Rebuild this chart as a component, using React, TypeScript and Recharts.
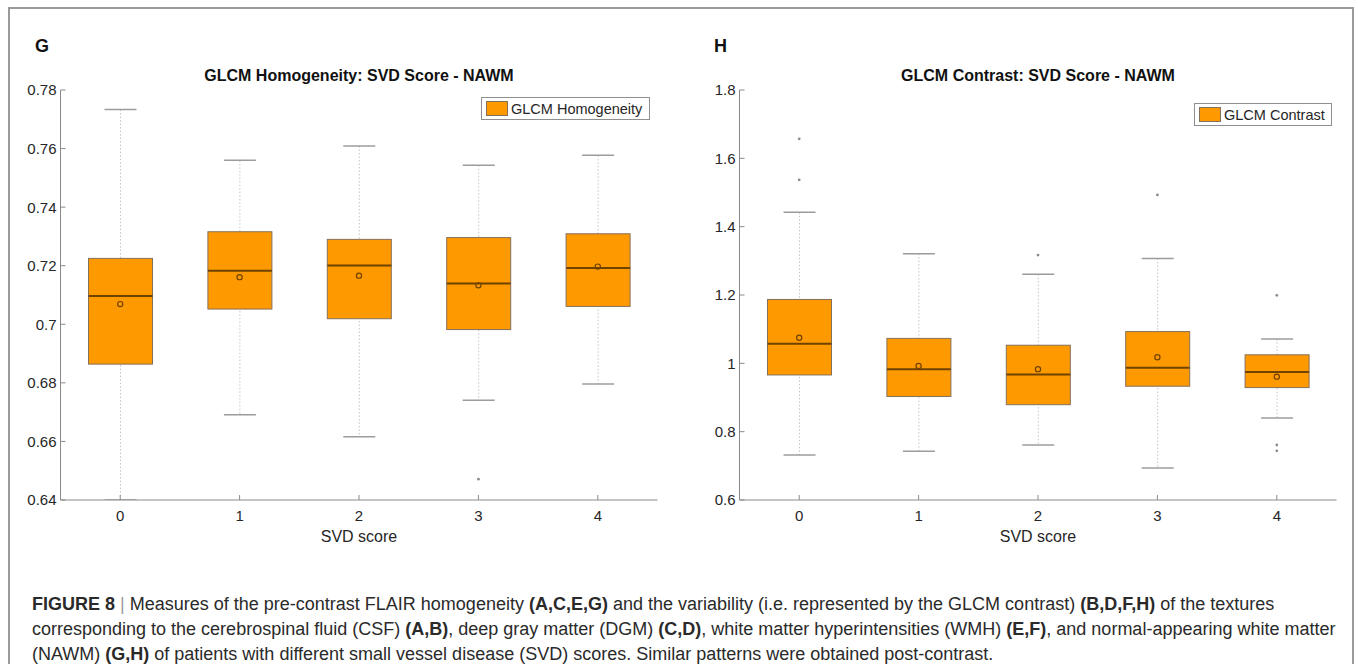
import React from 'react';
import { ComposedChart, Bar, Scatter, XAxis, YAxis, Legend } from 'recharts';

const SCORES = ['0', '1', '2', '3', '4'];

// G: GLCM homogeneity (NAWM) per SVD score
const HOM_LOW = [0.64, 0.6691, 0.6616, 0.6741, 0.6796];
const HOM_Q1 = [0.6864, 0.7052, 0.7019, 0.6982, 0.7061];
const HOM_MED = [0.7097, 0.7183, 0.7201, 0.7139, 0.7192];
const HOM_Q3 = [0.7225, 0.7316, 0.729, 0.7296, 0.7309];
const HOM_HIGH = [0.7733, 0.756, 0.7609, 0.7543, 0.7577];
const HOM_MEAN = [0.7069, 0.7161, 0.7166, 0.7133, 0.7197];
const HOM_OUTLIERS = [[], [], [], [0.6471], []];
const HOM_TICKS = [0.64, 0.66, 0.68, 0.7, 0.72, 0.74, 0.76, 0.78];

// H: GLCM contrast (NAWM) per SVD score
const CON_LOW = [0.732, 0.743, 0.761, 0.694, 0.84];
const CON_Q1 = [0.966, 0.903, 0.879, 0.933, 0.929];
const CON_MED = [1.057, 0.983, 0.967, 0.987, 0.975];
const CON_Q3 = [1.187, 1.073, 1.053, 1.093, 1.025];
const CON_HIGH = [1.442, 1.321, 1.261, 1.307, 1.071];
const CON_MEAN = [1.075, 0.992, 0.983, 1.018, 0.961];
const CON_OUTLIERS = [[1.657, 1.537], [], [1.317], [1.493], [1.199, 0.761, 0.744]];
const CON_TICKS = [0.6, 0.8, 1, 1.2, 1.4, 1.6, 1.8];

const FONT = '"Liberation Sans", Arial, Helvetica, sans-serif';
const AXIS = '#8a8a8a';
const TEXT = '#262626';
const ORANGE = '#ff9900';
const MEDIAN = '#6e4300';

const TICK_GAP_Y = 4;
const TICK_GAP_X = 10;
const TICK_LEN = 5;

const buildRows = (
  lo: number[], q1: number[], med: number[], q3: number[], hi: number[], mean: number[], out: number[][],
) =>
  SCORES.map((score, i) => ({
    score,
    lo: lo[i],
    q1: q1[i],
    med: med[i],
    q3: q3[i],
    hi: hi[i],
    mean: mean[i],
    o1: out[i][0] ?? null,
    o2: out[i][1] ?? null,
    o3: out[i][2] ?? null,
  }));

const fmt = (v: number) => String(Number(v.toFixed(2)));

// whole box drawn inside the [lo, hi] range bar, values placed along the bar's own pixel span
const BoxShape = (props: any) => {
  const { x, y, width, height, payload } = props;
  if (!payload || !Number.isFinite(y) || !Number.isFinite(height)) return null;
  const top = Math.min(y, y + height);
  const span = Math.abs(height);
  const range = payload.hi - payload.lo;
  const py = (v: number) => top + ((payload.hi - v) / range) * span;
  const cx = x + width / 2;
  const cap = width / 4;
  return (
    <g>
      <line x1={cx} x2={cx} y1={py(payload.hi)} y2={py(payload.lo)} stroke="#c4c4c4" strokeDasharray="1.5 2" />
      <line x1={cx - cap} x2={cx + cap} y1={py(payload.hi)} y2={py(payload.hi)} stroke="#9c9c9c" strokeWidth={1.5} />
      <line x1={cx - cap} x2={cx + cap} y1={py(payload.lo)} y2={py(payload.lo)} stroke="#9c9c9c" strokeWidth={1.5} />
      <rect
        x={x}
        y={py(payload.q3)}
        width={width}
        height={py(payload.q1) - py(payload.q3)}
        fill={ORANGE}
        stroke="#85705a"
        strokeWidth={1}
      />
      <line x1={x} x2={x + width} y1={py(payload.med)} y2={py(payload.med)} stroke={MEDIAN} strokeWidth={2} />
    </g>
  );
};

const MeanDot = (props: any) => {
  const { cx, cy } = props;
  if (!Number.isFinite(cx) || !Number.isFinite(cy)) return <g />;
  return <circle cx={cx} cy={cy} r={2.6} fill="none" stroke={MEDIAN} strokeWidth={1.2} />;
};

const OutlierDot = (key: string) => (props: any) => {
  const { cx, cy, payload } = props;
  if (!payload || payload[key] == null || !Number.isFinite(cy)) return <g />;
  return <circle cx={cx} cy={cy} r={1.4} fill="#8c8c8c" />;
};

const BottomTick = (props: any) => {
  const { x, y, payload } = props;
  const axisY = y - TICK_GAP_X;
  return (
    <g>
      <line x1={x} x2={x} y1={axisY} y2={axisY - TICK_LEN} stroke={AXIS} />
      <text x={x} y={y} dy="0.71em" textAnchor="middle" fill={TEXT} fontSize={15} fontFamily={FONT}>
        {payload.value}
      </text>
    </g>
  );
};

const LeftTick = (props: any) => {
  const { x, y, payload } = props;
  const axisX = x + TICK_GAP_Y;
  return (
    <g>
      <line x1={axisX} x2={axisX + TICK_LEN} y1={y} y2={y} stroke={AXIS} />
      <text x={x} y={y} dy="0.36em" textAnchor="end" fill={TEXT} fontSize={15} fontFamily={FONT}>
        {fmt(payload.value)}
      </text>
    </g>
  );
};

interface PanelProps {
  rows: ReturnType<typeof buildRows>;
  ticks: number[];
  title: string;
  letter: string;
  legendLabel: string;
  left: number;
  legendLeft: number;
  legendTop: number;
  legendWidth: number;
}

const CHART_W = 700;
const CHART_H = 560;
const MARGIN = { top: 90, right: 42.5, bottom: 0, left: 0 };
const Y_W = 60.5;

const BoxPanel: React.FC<PanelProps> = ({ rows, ticks, title, letter, legendLabel, left, legendLeft, legendTop, legendWidth }) => {
  const domain = [ticks[0], ticks[ticks.length - 1]];
  const plotLeft = MARGIN.left + Y_W;
  const plotW = CHART_W - MARGIN.right - plotLeft;
  return (
    <div style={{ position: 'absolute', left, top: 0, width: CHART_W, height: CHART_H }}>
      <div style={{ position: 'absolute', left: 35, top: 36, fontFamily: FONT, fontWeight: 700, fontSize: 18, lineHeight: '20px', color: '#111' }}>
        {letter}
      </div>
      <div
        style={{
          position: 'absolute', left: plotLeft, top: 66, width: plotW, textAlign: 'center',
          fontFamily: FONT, fontWeight: 700, fontSize: 16, lineHeight: '20px', color: '#111',
        }}
      >
        {title}
      </div>
      <ComposedChart width={CHART_W} height={CHART_H} data={rows} margin={MARGIN}>
        <XAxis
          xAxisId="m"
          dataKey="score"
          height={60}
          axisLine={{ stroke: AXIS }}
          tickLine={false}
          tickSize={0}
          tickMargin={TICK_GAP_X}
          tick={BottomTick}
          interval={0}
          label={{ value: 'SVD score', position: 'insideBottom', offset: 18, fill: TEXT, fontSize: 16, fontFamily: FONT }}
        />
        <XAxis
          xAxisId="t"
          dataKey="score"
          orientation="top"
          mirror
          height={0}
          axisLine={{ stroke: AXIS }}
          tick={false}
          tickSize={TICK_LEN}
          tickLine={{ stroke: AXIS }}
          interval={0}
        />
        <YAxis
          yAxisId="m"
          type="number"
          domain={domain}
          ticks={ticks}
          allowDataOverflow
          width={Y_W}
          axisLine={{ stroke: AXIS }}
          tickLine={false}
          tickSize={0}
          tickMargin={TICK_GAP_Y}
          tick={LeftTick}
          interval={0}
        />
        <YAxis
          yAxisId="r"
          type="number"
          orientation="right"
          mirror
          width={0}
          domain={domain}
          ticks={ticks}
          allowDataOverflow
          axisLine={{ stroke: AXIS }}
          tick={false}
          tickSize={TICK_LEN}
          tickLine={{ stroke: AXIS }}
          interval={0}
        />
        <Legend
          layout="vertical"
          align="center"
          verticalAlign="middle"
          wrapperStyle={{ left: legendLeft - left, top: legendTop, width: legendWidth, height: 23 }}
          content={() => (
            <div
              style={{
                boxSizing: 'border-box', width: legendWidth, height: 23, border: '1px solid #8f8f8f', background: '#fff',
                display: 'flex', alignItems: 'center', paddingLeft: 4, fontFamily: FONT, fontSize: 14.5, color: TEXT,
              }}
            >
              <span style={{ display: 'inline-block', width: 22, height: 15, background: ORANGE, border: '1px solid #85705a', boxSizing: 'border-box', marginRight: 3 }} />
              <span style={{ whiteSpace: 'nowrap' }}>{legendLabel}</span>
            </div>
          )}
        />
        <Bar xAxisId="m" yAxisId="m" dataKey={(d: any) => [d.lo, d.hi]} barSize={64} shape={BoxShape} isAnimationActive={false} />
        <Scatter xAxisId="m" yAxisId="m" dataKey="mean" shape={MeanDot} isAnimationActive={false} />
        <Scatter xAxisId="m" yAxisId="m" dataKey="o1" shape={OutlierDot('o1')} isAnimationActive={false} />
        <Scatter xAxisId="m" yAxisId="m" dataKey="o2" shape={OutlierDot('o2')} isAnimationActive={false} />
        <Scatter xAxisId="m" yAxisId="m" dataKey="o3" shape={OutlierDot('o3')} isAnimationActive={false} />
      </ComposedChart>
    </div>
  );
};

const homRows = buildRows(HOM_LOW, HOM_Q1, HOM_MED, HOM_Q3, HOM_HIGH, HOM_MEAN, HOM_OUTLIERS);
const conRows = buildRows(CON_LOW, CON_Q1, CON_MED, CON_Q3, CON_HIGH, CON_MEAN, CON_OUTLIERS);

const capLine: React.CSSProperties = {
  position: 'absolute', left: 32, whiteSpace: 'nowrap', fontFamily: FONT, fontSize: 18, lineHeight: '22px', color: '#2a2a2a',
};

export default function App() {
  return (
    <div style={{ position: 'absolute', left: 0, top: 0, width: 1358, height: 664, overflow: 'hidden', background: '#fff' }}>
      <div style={{ position: 'absolute', left: 8, top: 7, width: 1346, height: 720, border: '2px solid #9a9a9a', boxSizing: 'border-box' }} />
      <BoxPanel
        rows={homRows}
        ticks={HOM_TICKS}
        title="GLCM Homogeneity: SVD Score - NAWM"
        letter="G"
        legendLabel="GLCM Homogeneity"
        left={0}
        legendLeft={481}
        legendTop={97}
        legendWidth={169}
      />
      <BoxPanel
        rows={conRows}
        ticks={CON_TICKS}
        title="GLCM Contrast: SVD Score - NAWM"
        letter="H"
        legendLabel="GLCM Contrast"
        left={679}
        legendLeft={1194}
        legendTop={103}
        legendWidth={138}
      />
      <div style={{ ...capLine, top: 593 }}>
        <b>FIGURE 8</b> <span style={{ color: '#9a9a9a' }}>|</span> Measures of the pre-contrast FLAIR homogeneity <b>(A,C,E,G)</b> and the variability (i.e. represented by the GLCM contrast) <b>(B,D,F,H)</b> of the textures
      </div>
      <div style={{ ...capLine, top: 618 }}>
        corresponding to the cerebrospinal fluid (CSF) <b>(A,B)</b>, deep gray matter (DGM) <b>(C,D)</b>, white matter hyperintensities (WMH) <b>(E,F)</b>, and normal-appearing white matter
      </div>
      <div style={{ ...capLine, top: 643 }}>
        (NAWM) <b>(G,H)</b> of patients with different small vessel disease (SVD) scores. Similar patterns were obtained post-contrast.
      </div>
    </div>
  );
}
